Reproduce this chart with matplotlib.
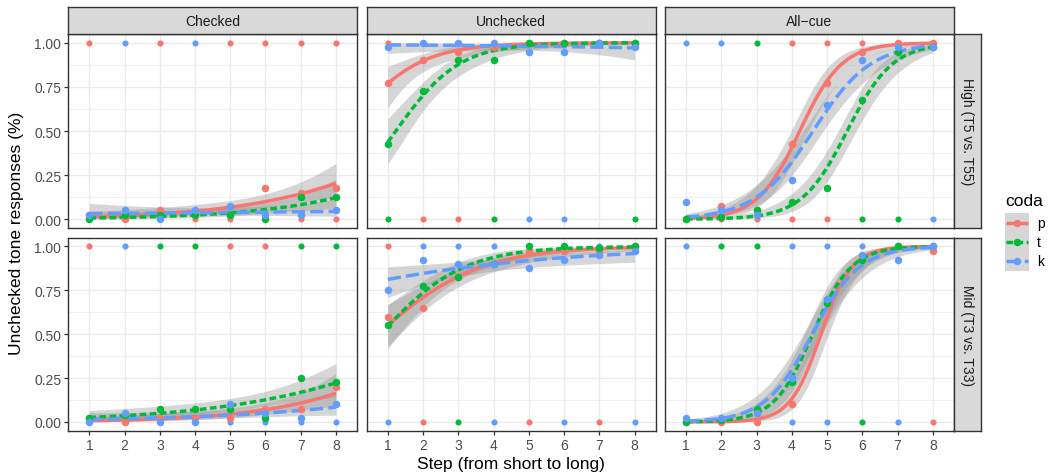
import numpy as np
import matplotlib
matplotlib.use("Agg")
import matplotlib.pyplot as plt

plt.rcParams['font.family'] = ['Liberation Sans', 'DejaVu Sans']

# ---------------- data ----------------
steps = [1, 2, 3, 4, 5, 6, 7, 8]
codas = ["p", "t", "k"]
conditions = ["Checked", "Unchecked", "All\u2212cue"]
tone_pairs = ["High (T5 vs. T55)", "Mid (T3 vs. T33)"]
n_per_step = 40  # responses per step per coda

# mean proportion of unchecked-tone responses
high_checked_p = [0.025, 0.0, 0.05, 0.025, 0.025, 0.175, 0.15, 0.175]
high_checked_t = [0.0, 0.025, 0.025, 0.025, 0.025, 0.0, 0.125, 0.125]
high_checked_k = [0.025, 0.05, 0.0, 0.05, 0.075, 0.025, 0.025, 0.05]

high_unchecked_p = [0.775, 0.9, 0.95, 0.975, 1.0, 1.0, 1.0, 1.0]
high_unchecked_t = [0.425, 0.725, 0.9, 0.9, 1.0, 1.0, 1.0, 1.0]
high_unchecked_k = [0.975, 1.0, 1.0, 1.0, 0.95, 0.95, 1.0, 0.975]

high_allcue_p = [0.0, 0.075, 0.05, 0.425, 0.775, 0.95, 1.0, 1.0]
high_allcue_t = [0.0, 0.0125, 0.05, 0.1, 0.175, 0.675, 0.95, 0.975]
high_allcue_k = [0.1, 0.05, 0.025, 0.225, 0.65, 0.9, 0.975, 0.975]

mid_checked_p = [0.025, 0.0, 0.025, 0.025, 0.025, 0.075, 0.075, 0.2]
mid_checked_t = [0.025, 0.04, 0.075, 0.075, 0.075, 0.025, 0.25, 0.225]
mid_checked_k = [0.0, 0.05, 0.0, 0.0, 0.1, 0.05, 0.025, 0.1]

mid_unchecked_p = [0.6, 0.65, 0.825, 0.9, 0.975, 0.975, 0.975, 1.0]
mid_unchecked_t = [0.55, 0.775, 0.825, 0.9, 1.0, 1.0, 0.99, 1.0]
mid_unchecked_k = [0.75, 0.925, 0.9, 0.9, 0.875, 0.925, 0.95, 0.975]

mid_allcue_p = [0.0, 0.0, 0.0, 0.1, 0.675, 0.925, 1.0, 0.975]
mid_allcue_t = [0.0, 0.0125, 0.075, 0.225, 0.675, 0.925, 1.0, 1.0]
mid_allcue_k = [0.025, 0.025, 0.05, 0.25, 0.7, 0.95, 0.925, 1.0]

# coda of the raw 0/1 response drawn last (visible) at each step
high_checked_raw_top = ["p", "k", "p", "k", "p", "p", "p", "p"]
high_checked_raw_bot = ["t", "p", "k", "p", "p", "t", "p", "p"]
high_unchecked_raw_top = ["p", "k", "k", "k", "t", "t", "k", "p"]
high_unchecked_raw_bot = ["t", "p", "p", "t", "k", "k", None, "t"]
high_allcue_raw_top = ["k", "k", "t", "p", "p", "p", "p", "p"]
high_allcue_raw_bot = ["t", "p", "p", "p", "p", "t", "t", "k"]
mid_checked_raw_top = ["p", "k", "t", "t", "p", "p", "t", "t"]
mid_checked_raw_bot = ["k", "p", "k", "k", "k", "k", "k", "k"]
mid_unchecked_raw_top = ["p", "k", "k", "k", "t", "t", "k", "t"]
mid_unchecked_raw_bot = ["k", "p", "t", "k", "p", "k", "p", "k"]
mid_allcue_raw_top = ["k", "t", "t", "k", "k", "k", "t", "k"]
mid_allcue_raw_bot = ["t", "p", "p", "k", "k", "t", "k", "p"]

means = [
    [[high_checked_p, high_checked_t, high_checked_k],
     [high_unchecked_p, high_unchecked_t, high_unchecked_k],
     [high_allcue_p, high_allcue_t, high_allcue_k]],
    [[mid_checked_p, mid_checked_t, mid_checked_k],
     [mid_unchecked_p, mid_unchecked_t, mid_unchecked_k],
     [mid_allcue_p, mid_allcue_t, mid_allcue_k]],
]
raw_top = [[high_checked_raw_top, high_unchecked_raw_top, high_allcue_raw_top],
           [mid_checked_raw_top, mid_unchecked_raw_top, mid_allcue_raw_top]]
raw_bot = [[high_checked_raw_bot, high_unchecked_raw_bot, high_allcue_raw_bot],
           [mid_checked_raw_bot, mid_unchecked_raw_bot, mid_allcue_raw_bot]]

# ---------------- style ----------------
colors = {"p": "#F8766D", "t": "#00BA38", "k": "#619CFF"}
dashes = {"p": None, "t": (1.9, 1.0), "k": (3.8, 1.5)}
LW = 2.5
FS_SMALL = 10.0
FS_TITLE = 12.5


def expit(v):
    return 1.0 / (1.0 + np.exp(-v))


def glm_logit(x, y, n):
    """binomial GLM (logit link) fit, like geom_smooth(method='glm')"""
    x = np.asarray(x, float)
    y = np.asarray(y, float)
    X = np.column_stack([np.ones_like(x), x])
    beta = np.zeros(2)
    for _ in range(200):
        mu = np.clip(expit(X @ beta), 1e-10, 1 - 1e-10)
        W = n * mu * (1 - mu)
        H = X.T @ (W[:, None] * X)
        g = X.T @ (n * (y - mu))
        step = np.linalg.solve(H, g)
        beta = beta + step
        if np.max(np.abs(step)) < 1e-10:
            break
    mu = np.clip(expit(X @ beta), 1e-10, 1 - 1e-10)
    W = n * mu * (1 - mu)
    cov = np.linalg.inv(X.T @ (W[:, None] * X))
    return beta, cov


W_PX, H_PX = 1051, 477
fig = plt.figure(figsize=(W_PX / 100, H_PX / 100), dpi=100)


def rect(x0, y0, x1, y1):
    return [x0 / W_PX, 1 - y1 / H_PX, (x1 - x0) / W_PX, (y1 - y0) / H_PX]


col_x = [(68.3, 357.0), (366.7, 655.7), (665.0, 954.0)]
row_y = [(35.0, 229.0), (238.7, 431.7)]
strip_top = (8.3, 35.0)
strip_right = (954.0, 981.0)
border = "#333333"

xs = np.linspace(1, 8, 80)
Xs = np.column_stack([np.ones_like(xs), xs])

for r in range(2):
    for c in range(3):
        ax = fig.add_axes(rect(col_x[c][0], row_y[r][0], col_x[c][1], row_y[r][1]))
        ax.set_xlim(0.4, 8.6)
        ax.set_ylim(-0.05, 1.05)
        ax.set_facecolor("white")
        for yv in [0.125, 0.375, 0.625, 0.875]:
            ax.axhline(yv, color="#EBEBEB", lw=0.5, zorder=0)
        for yv in [0, 0.25, 0.5, 0.75, 1.0]:
            ax.axhline(yv, color="#EBEBEB", lw=1.0, zorder=0)
        for xv in steps:
            ax.axvline(xv, color="#EBEBEB", lw=1.0, zorder=0)
        for s in ax.spines.values():
            s.set_color(border)
            s.set_linewidth(1.0)
            s.set_zorder(10)

        # smooths
        for i, cd in enumerate(codas):
            beta, cov = glm_logit(steps, means[r][c][i], n_per_step)
            eta = Xs @ beta
            se = np.sqrt(np.sum((Xs @ cov) * Xs, axis=1))
            ax.fill_between(xs, expit(eta - 1.96 * se), expit(eta + 1.96 * se),
                            color="#999999", alpha=0.4, lw=0, zorder=2)
            ln, = ax.plot(xs, expit(eta), color=colors[cd], lw=LW, zorder=3,
                          solid_capstyle="butt", dash_capstyle="butt")
            if dashes[cd] is not None:
                ln.set_dashes(dashes[cd])

        # raw responses at 0 / 1
        for j, st in enumerate(steps):
            cd = raw_top[r][c][j]
            if cd is not None:
                ax.plot([st], [1.0], "o", ms=4.4, color=colors[cd], mec="none", zorder=4)
            cd = raw_bot[r][c][j]
            if cd is not None:
                ax.plot([st], [0.0], "o", ms=4.4, color=colors[cd], mec="none", zorder=4)

        # means
        for i, cd in enumerate(codas):
            ax.plot(steps, means[r][c][i], "o", ms=5.4, color=colors[cd],
                    mec="none", zorder=5, ls="none")

        ax.set_xticks(steps)
        ax.set_yticks([0, 0.25, 0.5, 0.75, 1.0])
        ax.tick_params(length=2.9, width=0.9, color=border, labelcolor="#4D4D4D",
                       labelsize=FS_SMALL, pad=2.2)
        if c == 0:
            ax.set_yticklabels(["0.00", "0.25", "0.50", "0.75", "1.00"])
        else:
            ax.tick_params(axis="y", length=0, labelleft=False)
        if r == 1:
            ax.set_xticklabels([str(s) for s in steps])
        else:
            ax.tick_params(axis="x", length=0, labelbottom=False)

# strips
for c in range(3):
    sa = fig.add_axes(rect(col_x[c][0], strip_top[0], col_x[c][1], strip_top[1]))
    sa.set_facecolor("#D9D9D9")
    sa.set_xticks([]); sa.set_yticks([])
    for s in sa.spines.values():
        s.set_color(border); s.set_linewidth(1.0)
    sa.text(0.5, 0.48, conditions[c], ha="center", va="center", fontsize=FS_SMALL,
            color="#1A1A1A", transform=sa.transAxes)
for r in range(2):
    sa = fig.add_axes(rect(strip_right[0], row_y[r][0], strip_right[1], row_y[r][1]))
    sa.set_facecolor("#D9D9D9")
    sa.set_xticks([]); sa.set_yticks([])
    for s in sa.spines.values():
        s.set_color(border); s.set_linewidth(1.0)
    sa.text(0.5, 0.5, tone_pairs[r], ha="center", va="center", fontsize=FS_SMALL,
            color="#1A1A1A", rotation=-90, transform=sa.transAxes)

# axis titles
fig.text(511 / W_PX, 1 - 465 / H_PX, "Step (from short to long)", ha="center",
         va="center", fontsize=FS_TITLE, color="black")
fig.text(17 / W_PX, 1 - 233 / H_PX, "Unchecked tone responses (%)", ha="center",
         va="center", rotation=90, fontsize=FS_TITLE, color="black")

# legend
fig.text(1005 / W_PX, 1 - 202 / H_PX, "coda", ha="left", va="center", fontsize=FS_TITLE)
la = fig.add_axes(rect(1005, 214, 1029, 272))
la.set_xlim(0, 1); la.set_ylim(3, 0)
la.set_facecolor("#D6D6D6")
for s in la.spines.values():
    s.set_visible(False)
la.set_xticks([]); la.set_yticks([])
for i, cd in enumerate(codas):
    ln, = la.plot([0.06, 0.94], [i + 0.5, i + 0.5], color=colors[cd], lw=LW,
                  solid_capstyle="butt", dash_capstyle="butt")
    if dashes[cd] is not None:
        ln.set_dashes(dashes[cd])
    la.plot([0.5], [i + 0.5], "o", ms=5.4, color=colors[cd], mec="none")
    fig.text(1037 / W_PX, 1 - (214 + 19.33 * (i + 0.5)) / H_PX, cd, ha="left",
             va="center", fontsize=FS_SMALL)

fig.savefig("out.png", dpi=100)
